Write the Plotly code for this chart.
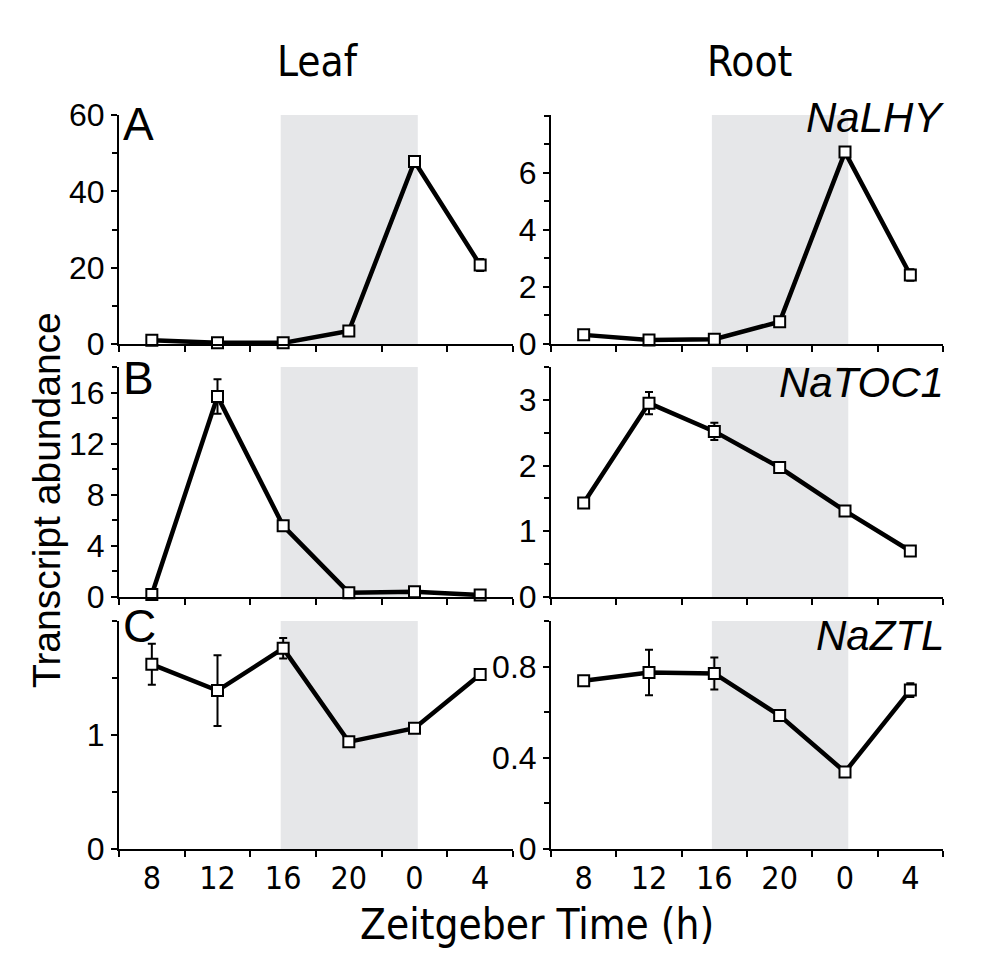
import plotly.graph_objects as go

# ---------------- data ----------------
zt_hours = [8, 12, 16, 20, 24, 28]          # Zeitgeber time (24 = 0 next day)
zt_labels = ["8", "12", "16", "20", "0", "4"]
dark_start, dark_end = 16, 24

leaf_lhy = [1.0, 0.3, 0.3, 3.4, 47.8, 20.7]
leaf_lhy_err = [0.5, 0.3, 0.3, 0.8, 1.2, 1.6]
root_lhy = [0.32, 0.14, 0.17, 0.78, 6.73, 2.42]
root_lhy_err = [0.05, 0.05, 0.05, 0.08, 0.15, 0.2]

leaf_toc1 = [0.2, 15.7, 5.57, 0.34, 0.42, 0.15]
leaf_toc1_err = [0.1, 1.35, 0.2, 0.1, 0.1, 0.1]
root_toc1 = [1.43, 2.95, 2.52, 1.97, 1.31, 0.70]
root_toc1_err = [0.04, 0.17, 0.13, 0.05, 0.04, 0.04]

leaf_ztl = [1.62, 1.39, 1.76, 0.94, 1.06, 1.53]
leaf_ztl_err = [0.18, 0.31, 0.09, 0.02, 0.02, 0.03]
root_ztl = [0.738, 0.774, 0.77, 0.585, 0.338, 0.697]
root_ztl_err = [0.02, 0.1, 0.07, 0.01, 0.01, 0.03]

gene_names = ["NaLHY", "NaTOC1", "NaZTL"]
panel_letters = ["A", "B", "C"]
column_titles = ["Leaf", "Root"]

# ---------------- layout helpers ----------------
W, H = 984, 969
OFF = 8  # page body margin in the browser
def px_x(p):
    return (p - OFF) / W
def px_y(p):
    return 1 - (p - OFF) / H

col_dom = [(px_x(119), px_x(513)), (px_x(551), px_x(943))]
row_dom = [(px_y(344), px_y(115)), (px_y(597), px_y(367)), (px_y(849), px_y(621))]

panels = [
    # (row, col, y, err, range, major ticks, minor dtick)
    (0, 0, leaf_lhy, leaf_lhy_err, [0, 60], [0, 20, 40, 60], 10),
    (0, 1, root_lhy, root_lhy_err, [0, 8.03], [0, 2, 4, 6], 1),
    (1, 0, leaf_toc1, leaf_toc1_err, [0, 18], [0, 4, 8, 12, 16], 2),
    (1, 1, root_toc1, root_toc1_err, [0, 3.5], [0, 1, 2, 3], 0.5),
    (2, 0, leaf_ztl, leaf_ztl_err, [0, 2.0], [0, 1], 0.5),
    (2, 1, root_ztl, root_ztl_err, [0, 1.0], [0, 0.4, 0.8], 0.2),
]

def fmt(v):
    return ("%g" % v)

SANS = "Liberation Sans, Arial, sans-serif"
NARROW = "Liberation Sans Narrow, Arial Narrow, DejaVu Sans Condensed, sans-serif"

fig = go.Figure()
layout = dict(
    width=W, height=H,
    margin=dict(l=0, r=0, t=0, b=0, pad=0, autoexpand=False),
    paper_bgcolor="white", plot_bgcolor="white",
    showlegend=False,
    shapes=[], annotations=[],
)

TICKFONT_Y = dict(family=SANS, size=32, color="black")
TICKFONT_X = dict(family=NARROW, size=32, color="black")

for i, (r, c, y, e, yr, majors, mdt) in enumerate(panels):
    n = i + 1
    xa = "x" if n == 1 else "x%d" % n
    ya = "y" if n == 1 else "y%d" % n
    xkey = "xaxis" if n == 1 else "xaxis%d" % n
    ykey = "yaxis" if n == 1 else "yaxis%d" % n

    fig.add_trace(go.Scatter(
        x=zt_hours, y=y, xaxis=xa, yaxis=ya, mode="lines+markers",
        line=dict(color="black", width=4.5),
        marker=dict(symbol="square", size=11, color="white",
                    line=dict(color="black", width=2)),
        error_y=dict(type="data", array=e, visible=True, color="black",
                     thickness=2, width=4),
        cliponaxis=False,
    ))

    layout[xkey] = dict(
        domain=list(col_dom[c]), anchor=ya, range=[6, 30],
        tickmode="array", tickvals=zt_hours, ticktext=zt_labels,
        ticks="", showticklabels=(r == 2), tickfont=TICKFONT_X,
        showline=True, linecolor="black", linewidth=2,
        showgrid=False, zeroline=False, automargin=False,
        minor=dict(ticks="outside", tickmode="linear", tick0=6, dtick=4,
                   ticklen=6, tickwidth=2, tickcolor="black", showgrid=False),
    )
    layout[ykey] = dict(
        domain=list(row_dom[r]), anchor=xa, range=yr,
        tickmode="array", tickvals=majors, ticktext=[fmt(v) for v in majors],
        ticks="outside", ticklen=6, tickwidth=2, tickcolor="black",
        tickfont=TICKFONT_Y,
        showline=True, linecolor="black", linewidth=2,
        showgrid=False, zeroline=False, automargin=False,
        minor=dict(ticks="outside", tickmode="linear", tick0=0, dtick=mdt,
                   ticklen=5, tickwidth=2, tickcolor="black", showgrid=False),
    )

    # dark period shading
    layout["shapes"].append(dict(
        type="rect", xref=xa, yref="%s domain" % ya,
        x0=dark_start - 0.15, x1=dark_end + 0.2, y0=0, y1=1,
        fillcolor="#e6e7e9", line=dict(width=0), layer="below",
    ))

# panel letters and gene names
letter_y = [124, 378, 626]
gene_y = [117, 382, 635]
for r in range(3):
    layout["annotations"].append(dict(
        text=panel_letters[r], xref="paper", yref="paper",
        x=px_x(121), y=px_y(letter_y[r]), xanchor="left", yanchor="middle",
        showarrow=False,
        font=dict(family=SANS, size=46, color="black"),
    ))
    layout["annotations"].append(dict(
        text="<i>%s</i>" % gene_names[r], xref="paper", yref="paper",
        x=px_x(946), y=px_y(gene_y[r]), xanchor="right", yanchor="middle",
        showarrow=False,
        font=dict(family=SANS, size=42, color="black"),
    ))

for c, cx in zip(range(2), [318, 749]):
    layout["annotations"].append(dict(
        text=column_titles[c], xref="paper", yref="paper",
        x=px_x(cx), y=px_y(62), xanchor="center", yanchor="middle",
        showarrow=False, font=dict(family=NARROW, size=42, color="black"),
    ))

layout["annotations"].append(dict(
    text="Zeitgeber Time (h)", xref="paper", yref="paper",
    x=px_x(537), y=px_y(924), xanchor="center", yanchor="middle",
    showarrow=False, font=dict(family=NARROW, size=42, color="black"),
))
layout["annotations"].append(dict(
    text="Transcript abundance", xref="paper", yref="paper",
    x=px_x(46), y=px_y(500), xanchor="center", yanchor="middle",
    textangle=-90, showarrow=False,
    font=dict(family=SANS, size=39, color="black"),
))

fig.update_layout(**layout)
fig.write_html("out.html")
